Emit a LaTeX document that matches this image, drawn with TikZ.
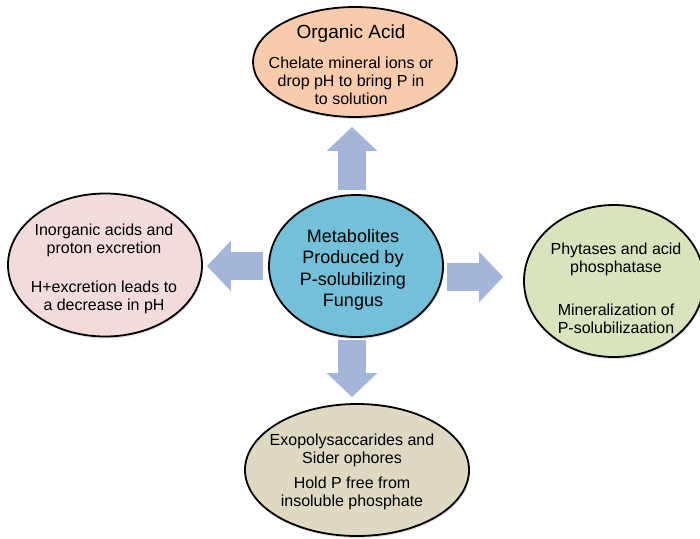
\documentclass[tikz,border=0pt]{standalone}
\usepackage{fontspec}
\setmainfont{Liberation Sans}
\usetikzlibrary{shapes.geometric,arrows.meta,calc,shadows}
\definecolor{peach}{RGB}{248,203,173}
\definecolor{hubblue}{RGB}{115,192,216}
\definecolor{pinkish}{RGB}{242,220,219}
\definecolor{lightgreen}{RGB}{215,228,189}
\definecolor{tan}{RGB}{221,217,195}
\definecolor{arrowblue}{RGB}{163,181,216}

\begin{document}
\begin{tikzpicture}[x=1pt,y=-1pt,
    bubble/.style={ellipse, draw=black, line width=1.8pt, inner sep=0pt,
      drop shadow={opacity=0.25, shadow xshift=1pt, shadow yshift=-2pt}},
    txt/.style={align=center, font=\fontsize{16}{18}\selectfont},
    bigarrow/.style={draw=arrowblue, line width=28pt,
      -{Triangle[length=24pt,width=49pt]}}]
  \useasboundingbox (0,0) rectangle (700,538);
  % ovals
  \node[bubble, fill=peach, minimum width=204, minimum height=110] (acid) at (355,62) {};
  \node[bubble, fill=hubblue, minimum width=174, minimum height=142] (hub) at (356,266) {};
  \node[bubble, fill=pinkish, minimum width=194, minimum height=143] (lft) at (105,265) {};
  \node[bubble, fill=lightgreen, minimum width=180, minimum height=152] (rgt) at (614,281) {};
  \node[bubble, fill=tan, minimum width=224, minimum height=132] (bot) at (357,470) {};
  % texts
  \node[txt] (acidtxt) at (351,65) {{\fontsize{19}{22}\selectfont Organic Acid}\\[12pt]
    Chelate mineral ions or\\ drop pH to bring P in\\ to solution};
  \node[txt, font=\fontsize{18}{21.5}\selectfont] (hubtxt) at (353,270)
    {Metabolites\\ Produced by\\ P-solubilizing\\ Fungus};
  \node[txt] (lfttxt) at (104,269) {Inorganic acids and\\ proton excretion\\[21pt]
    H+excretion leads to\\ a decrease in pH};
  \node[txt] (rgttxt) at (616,288) {Phytases and acid\\ phosphatase\\[25pt]
    Mineralization of\\ P-solubilizaation};
  \node[txt] (bottxt) at (352,472) {Exopolysaccarides and\\ Sider ophores\\[7pt]
    Hold P free from\\ insoluble phosphate};
  % arrows
  \draw[bigarrow] ($(hub.north)+(-4,-4)$) -- ($(acid.south)+(-3,9)$);
  \draw[bigarrow] ($(hub.west)+(-5,0)$) -- ($(lft.east)+(4,1)$);
  \draw[bigarrow] ($(hub.east)+(3,11)$) -- ($(rgt.west)+(-20,-4)$);
  \draw[bigarrow] ($(hub.south)+(-4,2)$) -- ($(bot.north)+(-5,-6)$);
\end{tikzpicture}
\end{document}
